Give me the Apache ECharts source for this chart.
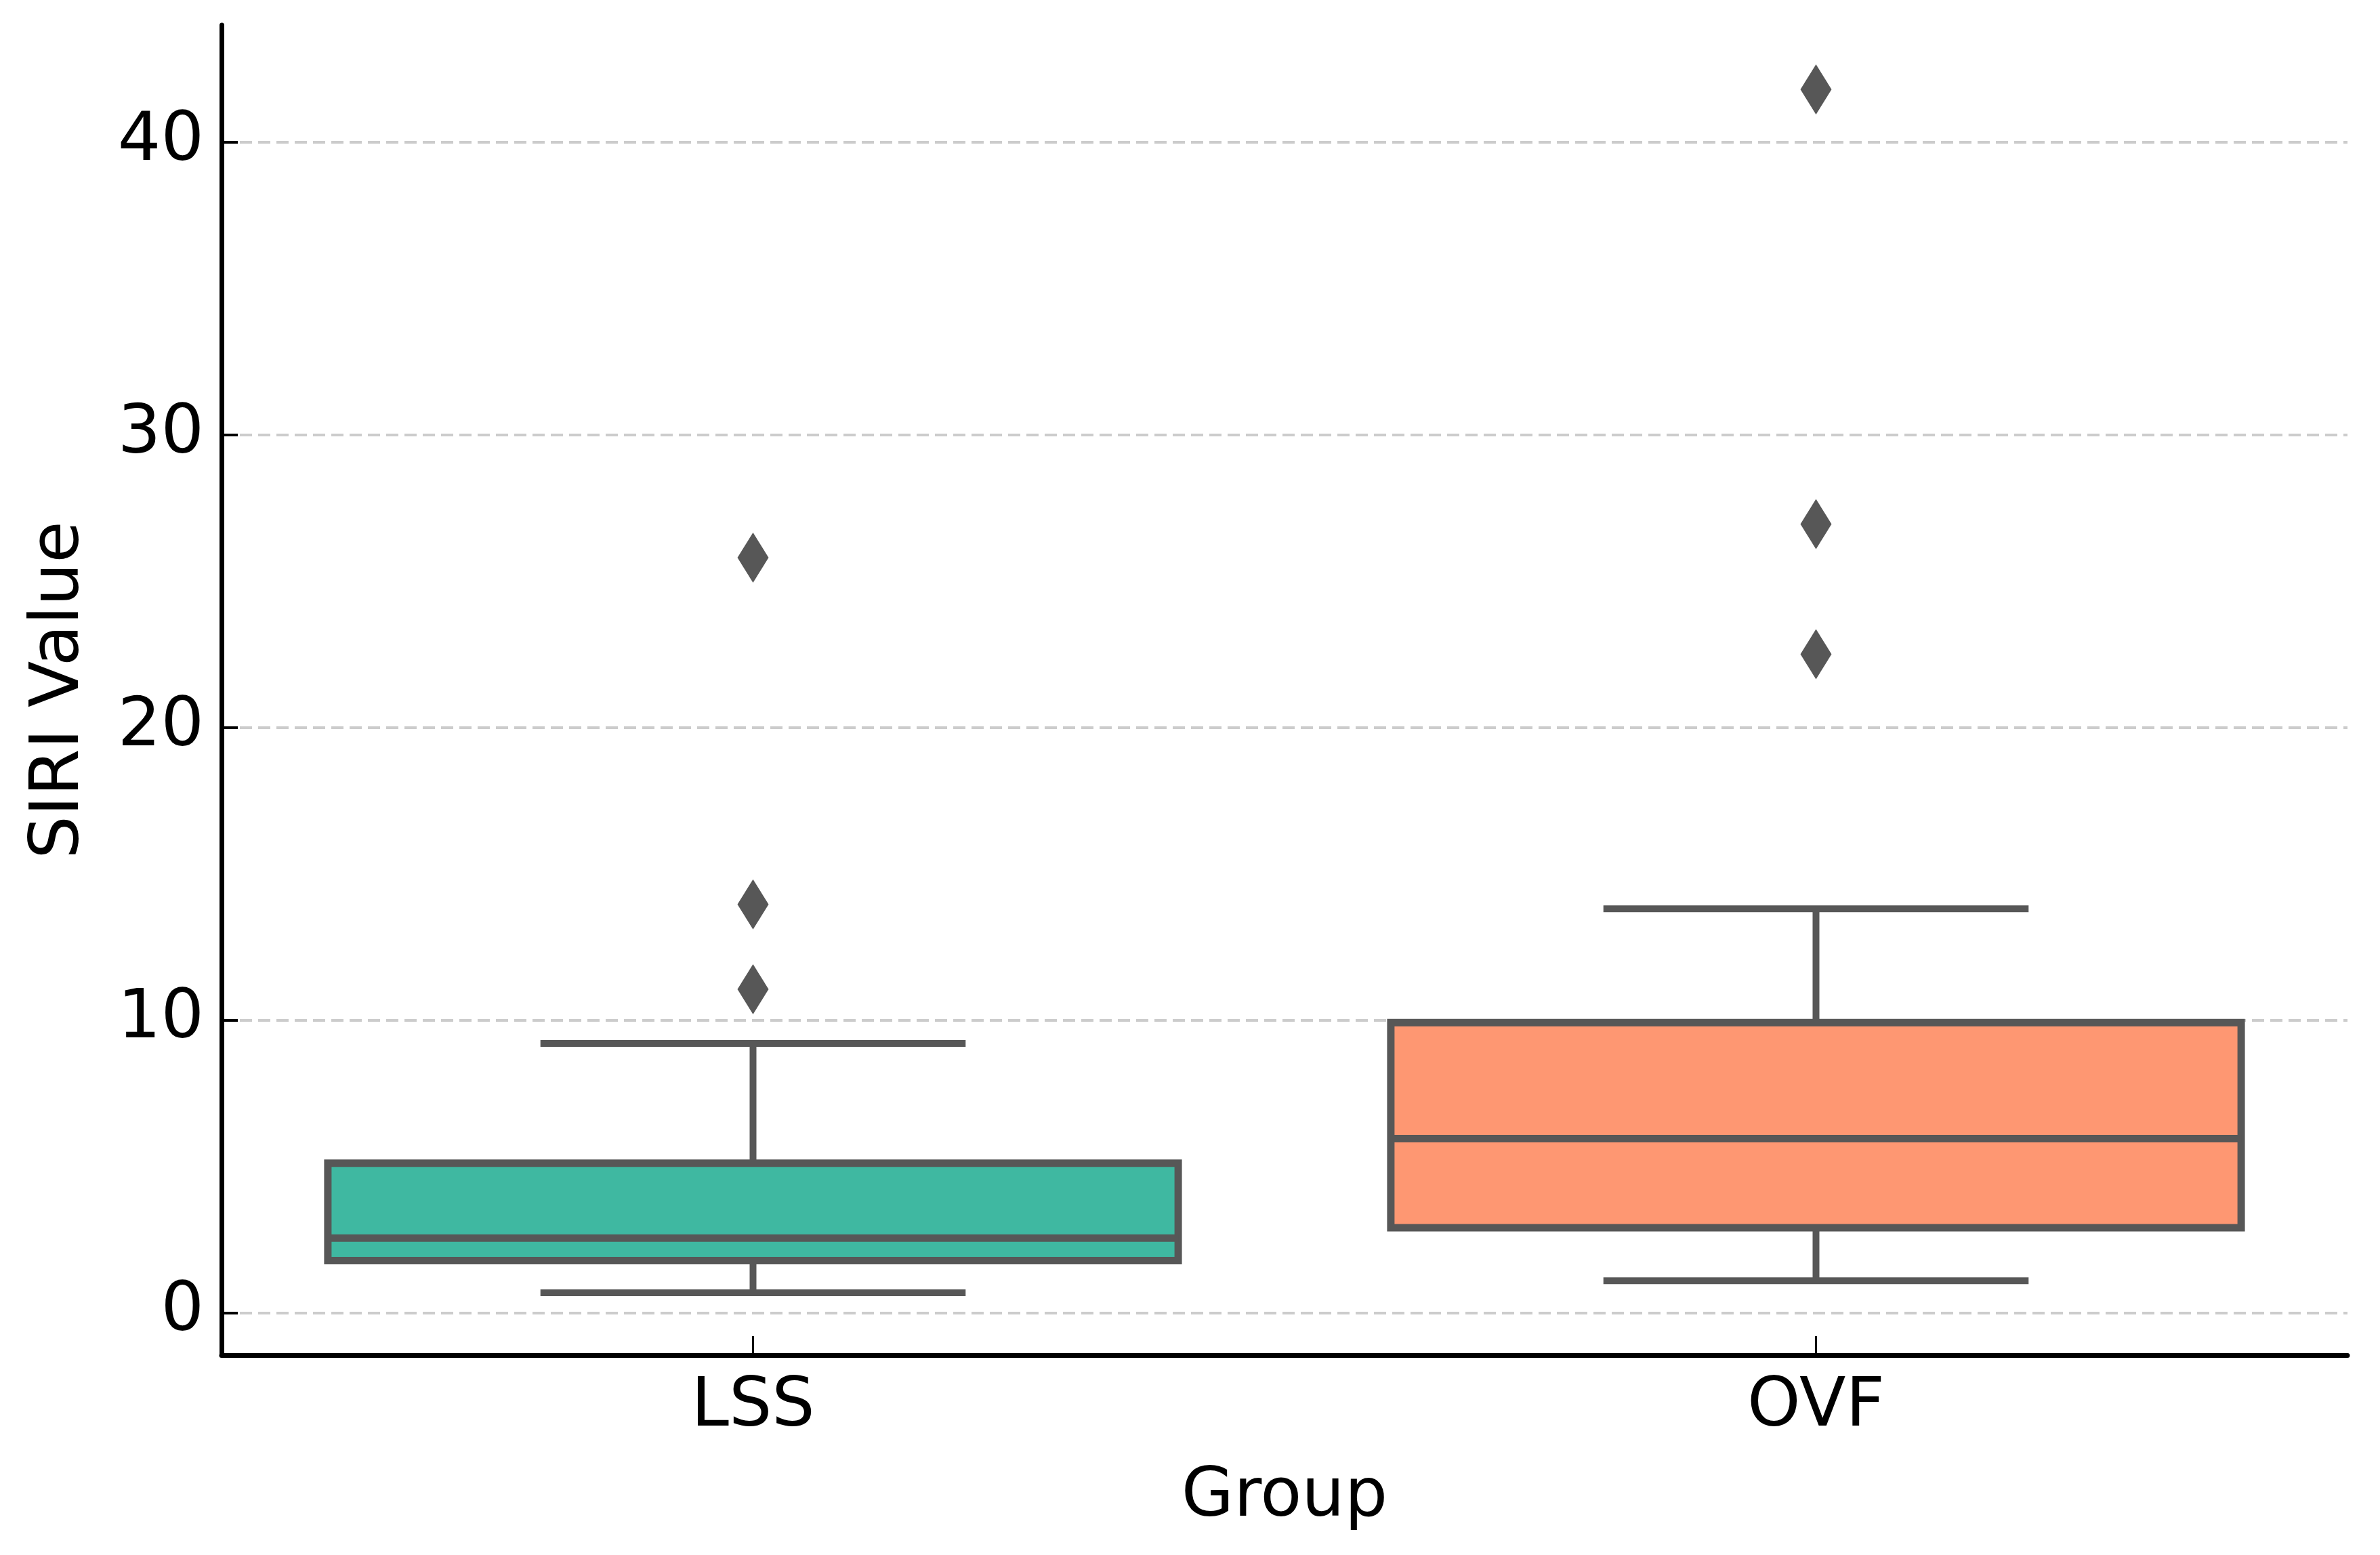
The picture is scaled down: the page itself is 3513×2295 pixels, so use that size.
<!DOCTYPE html>
<html><head><meta charset="utf-8">
<script src="https://cdn.jsdelivr.net/npm/echarts@6/dist/echarts.min.js"></script>
<style>html,body{margin:0;padding:0;background:#fff}#c{width:3513px;height:2295px}</style>
</head><body><div id="c"></div>
<script>
const categories = ['LSS', 'OVF'];
const lowWhisker = [0.68, 1.09];
const q1 = [1.78, 2.9];
const median = [2.55, 5.95];
const q3 = [5.11, 9.91];
const highWhisker = [9.2, 13.8];
const boxColors = ['#3FB8A1', '#FE9772'];
const outlierGroup = [0, 0, 0, 1, 1, 1];
const outlierValues = [25.8, 13.95, 11.05, 41.8, 26.95, 22.5];
const yTicks = [0, 10, 20, 30, 40];

const boxData = categories.map((c, i) => [i, lowWhisker[i], q1[i], median[i], q3[i], highWhisker[i]]);
const outlierData = outlierValues.map((v, k) => [outlierGroup[k], v]);

const EDGE = '#575757';
const FONT = 'DejaVu Sans';

function renderBox(params, api) {
  const i = api.value(0);
  const x = api.coord([i, api.value(3)])[0];
  const bw = api.size([1, 0])[0] * 0.8;
  const yLow = api.coord([i, api.value(1)])[1];
  const yQ1 = api.coord([i, api.value(2)])[1];
  const yMed = api.coord([i, api.value(3)])[1];
  const yQ3 = api.coord([i, api.value(4)])[1];
  const yHigh = api.coord([i, api.value(5)])[1];
  const ls = { stroke: EDGE, lineWidth: 10 };
  return {
    type: 'group',
    children: [
      { type: 'line', shape: { x1: x, y1: yLow, x2: x, y2: yQ1 }, style: ls },
      { type: 'line', shape: { x1: x, y1: yQ3, x2: x, y2: yHigh }, style: ls },
      { type: 'line', shape: { x1: x - bw / 4, y1: yLow, x2: x + bw / 4, y2: yLow }, style: ls },
      { type: 'line', shape: { x1: x - bw / 4, y1: yHigh, x2: x + bw / 4, y2: yHigh }, style: ls },
      { type: 'rect', shape: { x: x - bw / 2, y: yQ3, width: bw, height: yQ1 - yQ3 },
        style: { fill: boxColors[i], stroke: EDGE, lineWidth: 11 } },
      { type: 'line', shape: { x1: x - bw / 2, y1: yMed, x2: x + bw / 2, y2: yMed },
        style: { stroke: EDGE, lineWidth: 11 } }
    ]
  };
}

const chart = echarts.init(document.getElementById('c'), null, { renderer: 'canvas' });
chart.setOption({
  animation: false,
  backgroundColor: '#ffffff',
  grid: { left: 327, right: 48, top: 37, bottom: 295, containLabel: false },
  xAxis: {
    type: 'category',
    data: categories,
    axisLine: { show: true, onZero: false, lineStyle: { color: '#000', width: 7 } },
    axisTick: { show: true, inside: true, alignWithLabel: true, length: 28, lineStyle: { color: '#000', width: 3 } },
    axisLabel: { fontSize: 100, color: '#000', fontFamily: FONT, margin: 28 },
    splitLine: { show: false },
    name: 'Group',
    nameLocation: 'middle',
    nameGap: 161,
    nameTextStyle: { fontSize: 100, color: '#000', fontFamily: FONT }
  },
  yAxis: {
    type: 'value',
    min: -1.45,
    max: 44.0,
    axisLine: { show: true, onZero: false, lineStyle: { color: '#000', width: 7 } },
    axisTick: { show: true, inside: true, length: 24, customValues: yTicks, lineStyle: { color: '#000', width: 4 } },
    axisLabel: { customValues: yTicks, fontSize: 100, color: '#000', fontFamily: FONT, margin: 26 },
    splitLine: { show: true, lineStyle: { color: '#cccccc', width: 4, type: [18, 9] } },
    name: 'SIRI Value',
    nameLocation: 'middle',
    nameGap: 188,
    nameTextStyle: { fontSize: 100, color: '#000', fontFamily: FONT }
  },
  series: [
    {
      type: 'custom',
      renderItem: renderBox,
      data: boxData,
      encode: { x: 0, y: [1, 2, 3, 4, 5] },
      z: 3
    },
    {
      type: 'scatter',
      data: outlierData,
      symbol: 'diamond',
      symbolSize: [46, 74],
      itemStyle: { color: EDGE, opacity: 1 },
      z: 4
    }
  ]
});
</script>
</body></html>
